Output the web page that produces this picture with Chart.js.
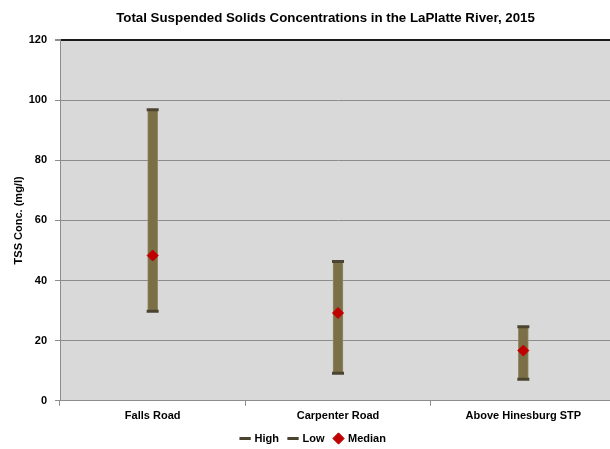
<!DOCTYPE html>
<html>
<head>
<meta charset="utf-8">
<script src="https://cdn.jsdelivr.net/npm/chart.js@4/dist/chart.umd.min.js"></script>
<style>
  html, body { margin: 0; padding: 0; background: #ffffff; overflow: hidden; }
  #wrap { position: relative; width: 625px; height: 449px; }
</style>
</head>
<body>
<div id="wrap"><canvas id="c" width="625" height="449"></canvas></div>
<script>
// Sampling sites along the river
const sites = ['Falls Road', 'Carpenter Road', 'Above Hinesburg STP'];
// TSS concentrations (mg/l), 2015
const highValues = [96.8, 46.3, 24.6];
const lowValues = [29.8, 9.2, 7.2];
const medianValues = [48.3, 29.2, 16.7];
// Y axis ticks
const yTicks = [0, 20, 40, 60, 80, 100, 120];

const FONT = "'Liberation Sans', Arial, sans-serif";

// Gray plot-area fill
const plotBackground = {
  id: 'plotBackground',
  beforeDraw(chart) {
    const { ctx, chartArea: a } = chart;
    ctx.save();
    ctx.fillStyle = '#d9d9d9';
    ctx.fillRect(a.left, a.top, a.right - a.left, a.bottom - a.top);
    ctx.restore();
  }
};

// Tighter legend box, and title/legend nudged right of the canvas centre
const blockShift = {
  id: 'blockShift',
  beforeUpdate(chart) {
    const lg = chart.legend;
    if (lg && !lg._tightFit) {
      const fit = lg.fit;
      lg.fit = function () { fit.call(this); this.height -= 9; };
      lg._tightFit = true;
    }
  },
  afterLayout(chart) {
    if (chart.titleBlock) { chart.titleBlock.left += 15; chart.titleBlock.right += 15; }
    if (chart.legend) {
      chart.legend.left += 3; chart.legend.right += 3;
      chart.legend.top -= 4; chart.legend.bottom -= 4;
    }
  }
};

new Chart(document.getElementById('c'), {
  data: {
    labels: sites,
    datasets: [
      {
        type: 'bar',
        label: 'Range',
        data: sites.map((_, i) => [lowValues[i], highValues[i]]),
        backgroundColor: '#7b6f47',
        borderColor: '#958a66',
        borderWidth: { left: 1, right: 1, top: 0, bottom: 0 },
        borderSkipped: false,
        barThickness: 10,
        order: 3
      },
      {
        type: 'line',
        label: 'High',
        data: highValues,
        showLine: false,
        pointStyle: 'line',
        pointRadius: 6,
        pointHoverRadius: 6,
        pointBorderWidth: 3,
        borderColor: '#4a4430',
        backgroundColor: '#4a4430',
        order: 2
      },
      {
        type: 'line',
        label: 'Low',
        data: lowValues,
        showLine: false,
        pointStyle: 'line',
        pointRadius: 6,
        pointHoverRadius: 6,
        pointBorderWidth: 3,
        borderColor: '#4a4430',
        backgroundColor: '#4a4430',
        order: 2
      },
      {
        type: 'line',
        label: 'Median',
        data: medianValues,
        showLine: false,
        pointStyle: 'rectRot',
        pointRadius: 5.5,
        pointHoverRadius: 5.5,
        pointBorderWidth: 1,
        borderColor: '#c00000',
        backgroundColor: '#c00000',
        order: 1
      }
    ]
  },
  options: {
    responsive: false,
    animation: false,
    devicePixelRatio: 1,
    layout: { padding: { left: 0, right: 4, top: 0, bottom: 0 } },
    plugins: {
      title: {
        display: true,
        text: 'Total Suspended Solids Concentrations in the LaPlatte River, 2015',
        color: '#000000',
        font: { family: FONT, size: 13.3, weight: 'bold' },
        padding: { top: 10, bottom: 14 },
        align: 'center'
      },
      legend: {
        position: 'bottom',
        labels: {
          filter: (item) => item.text !== 'Range',
          sort: (a, b) => a.datasetIndex - b.datasetIndex,
          usePointStyle: true,
          color: '#000000',
          font: { family: FONT, size: 11, weight: 'bold' },
          boxWidth: 8,
          boxHeight: 8,
          padding: 10
        }
      },
      tooltip: { enabled: false }
    },
    scales: {
      x: {
        offset: true,
        grid: {
          offset: true,
          drawOnChartArea: false,
          drawTicks: true,
          tickLength: 5,
          color: '#8c8c8c'
        },
        border: { color: '#8c8c8c', width: 1 },
        ticks: {
          color: '#000000',
          font: { family: FONT, size: 11, weight: 'bold' },
          padding: 4,
          maxRotation: 0
        }
      },
      y: {
        min: 0,
        max: 120,
        afterBuildTicks: (axis) => { axis.ticks = yTicks.map(v => ({ value: v })); },
        afterFit: (axis) => { axis.width = 60; },
        grid: {
          color: (c) => c.tick && c.tick.value === 120 ? '#1a1a1a' : '#8c8c8c',
          lineWidth: (c) => c.tick && c.tick.value === 120 ? 2 : 1,
          tickLength: 5,
          tickColor: '#8c8c8c'
        },
        border: { color: '#8c8c8c', width: 1 },
        ticks: {
          color: '#000000',
          font: { family: FONT, size: 11, weight: 'bold' },
          padding: 8
        },
        title: {
          display: true,
          text: 'TSS Conc. (mg/l)',
          color: '#000000',
          font: { family: FONT, size: 11, weight: 'bold' },
          padding: { top: 12, bottom: 4 }
        }
      }
    }
  },
  plugins: [plotBackground, blockShift]
});
</script>
</body>
</html>
